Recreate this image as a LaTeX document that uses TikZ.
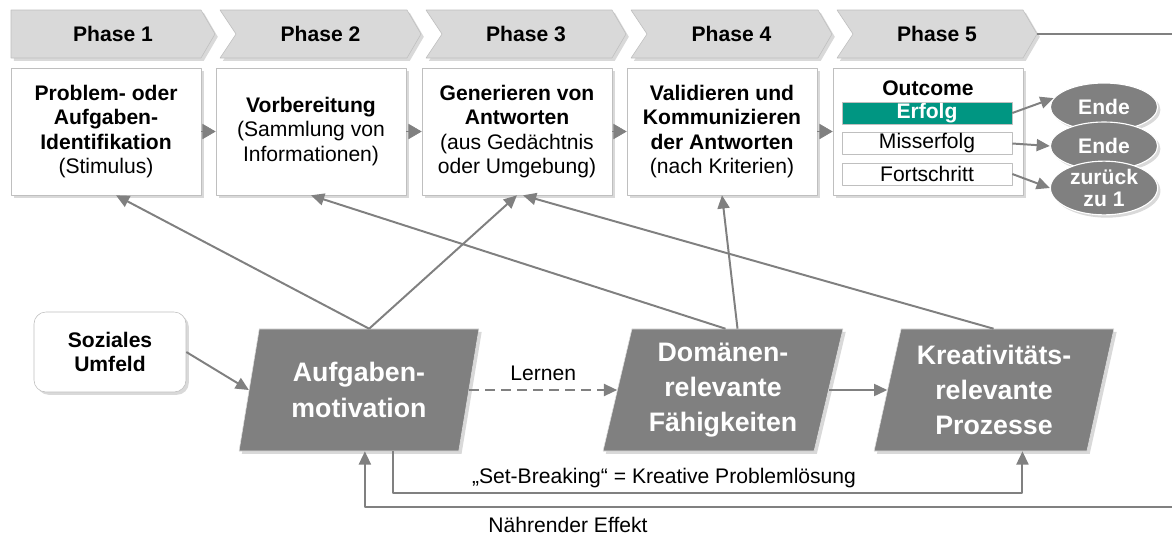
\documentclass[tikz,border=0pt]{standalone}
\usepackage{fontspec}
\setmainfont{Liberation Sans}
\usetikzlibrary{arrows.meta,shapes.geometric,shadows}

\definecolor{linegray}{HTML}{808080}
\definecolor{chevgray}{HTML}{D9D9D9}
\definecolor{framegray}{HTML}{BFBFBF}
\definecolor{erfolgteal}{HTML}{009682}

\tikzset{
  boxshadow/.style={drop shadow={opacity=.3,shadow xshift=.7mm,shadow yshift=-.7mm}},
  chevron/.style={fill=chevgray,draw=framegray,boxshadow},
  phase/.style={font=\fontsize{15}{17}\selectfont\bfseries},
  stage/.style={draw=framegray,fill=white,boxshadow,minimum width=4.75cm,
    minimum height=3.175cm,inner sep=0pt,align=center,
    font=\fontsize{15}{17.3}\selectfont},
  result/.style={draw=framegray,fill=white,minimum width=4.25cm,
    minimum height=.55cm,inner sep=0pt,font=\fontsize{15}{17}\selectfont},
  endnode/.style={ellipse,fill=linegray,draw=white,line width=.8pt,text=white,
    minimum width=2.68cm,minimum height=1.2cm,inner sep=0pt,align=center,
    font=\fontsize{15}{16}\selectfont\bfseries,boxshadow},
  factor/.style={trapezium,trapezium left angle=76,trapezium right angle=104,
    trapezium stretches=true,minimum width=6cm,minimum height=3.05cm,
    fill=linegray,draw=white!75!linegray,text=white,inner sep=0pt,align=center,
    font=\fontsize{19}{25}\selectfont\bfseries,boxshadow},
  social/.style={draw=framegray,fill=white,rounded corners=.3cm,boxshadow,
    minimum width=3.8cm,minimum height=2cm,align=center,
    font=\fontsize{15}{16.5}\selectfont\bfseries},
  lbl/.style={font=\fontsize{15}{17}\selectfont},
  link/.style={draw=linegray,line width=1.4pt},
  arr/.style={link,-{Triangle[length=.33cm,width=.3cm]}},
  flow/.style={draw=linegray,line width=.5pt,-{Triangle[length=.33cm,width=.38cm]}},
}

\begin{document}
\begin{tikzpicture}[x=0.025cm,y=-0.025cm,line join=round]
  \useasboundingbox (0,0) rectangle (1172,535);

  % phase bar
  \foreach \l/\r/\d/\n in {11/201/0/1,220/407/16/2,426/612/16/3,631/818/16/4,837/1023/16/5}{
    \filldraw[chevron] (\l,10) -- (\r,10) -- (\r+14,34) -- (\r,58) -- (\l,58) -- (\l+\d,34) -- cycle;
    \node[phase] (p\n) at ({(\l+\r+14)/2},34) {Phase \n};
  }
  \coordinate (tip) at (1037,34);
  \coordinate (topend) at (1172,34);
  \draw[link] (tip) -- (topend);

  % stages
  \node[stage] (b1) at (106,131.5) {\textbf{Problem- oder}\\\textbf{Aufgaben-}\\\textbf{Identifikation}\\(Stimulus)};
  \node[stage] (b2) at (311,131.5) {\textbf{Vorbereitung}\\(Sammlung von\\Informationen)};
  \node[stage] (b3) at (517,131.5) {\textbf{Generieren von}\\\textbf{Antworten}\\(aus Gedächtnis\\oder Umgebung)};
  \node[stage] (b4) at (722,131.5) {\textbf{Validieren und}\\\textbf{Kommunizieren}\\\textbf{der Antworten}\\(nach Kriterien)};
  \node[stage] (b5) at (928,131.5) {};
  \foreach \a/\b in {b1/b2,b2/b3,b3/b4,b4/b5}
    \draw[flow] (\a.east) -- (\b.west);

  % outcome
  \node[font=\fontsize{15}{17}\selectfont\bfseries] (outc) at (928,88) {Outcome};
  \node[result,fill=erfolgteal,text=white,font=\fontsize{15}{17}\selectfont\bfseries] (erf) at (927,113) {Erfolg};
  \node[result] (mis) at (927,143.5) {Misserfolg};
  \node[result] (fort) at (927,174) {Fortschritt};
  \node[endnode] (e1) at (1104,107) {Ende};
  \node[endnode] (e2) at (1104,146) {Ende};
  \node[endnode] (e3) at (1104,188) {zurück\\zu 1};
  \draw[arr] (erf.east) -- (e1.170);
  \draw[arr] (mis.east) -- (e2.west);
  \draw[arr] (fort.east) -- (e3.west);

  % components
  \node[social] (soz) at (110,352) {Soziales\\Umfeld};
  \node[factor] (A) at (359,390) {Aufgaben-\\motivation};
  \node[factor] (D) at (723,390) {Domänen-\\relevante\\Fähigkeiten};
  \node[factor] (K) at (994,390) {Kreativitäts-\\relevante\\Prozesse};

  \draw[arr] (soz.east) -- (A.left side);
  \draw[arr,dash pattern=on .25cm off .15cm] (A.right side) -- node[lbl,above=.1cm] (lern) {Lernen} (D.left side);
  \draw[arr] (D.right side) -- (K.left side);

  \draw[arr] (A.top side) -- ([xshift=.25cm]b1.south);
  \draw[arr] (A.top side) -- (b3.south);
  \draw[arr] ([xshift=-.3cm]D.top side) -- (b2.south);
  \draw[arr] (D.top side) -- (b4.south);
  \draw[arr] ([xshift=-.35cm]K.top side) -- ([xshift=.15cm]b3.south);

  \coordinate (sbk) at (664,493);
  \draw[arr] ([xshift=1.1cm]A.bottom side) |- (sbk) -| ([xshift=1.05cm]K.bottom side);
  \node[lbl,above] (sbtxt) at (sbk) {„Set-Breaking“ = Kreative Problemlösung};

  \coordinate (nrend) at (1172,507);
  \draw[arr] (nrend) -| ([xshift=.4cm]A.bottom side);
  \node[lbl] (nrtxt) at (568,525) {Nährender Effekt};
\end{tikzpicture}
\end{document}
